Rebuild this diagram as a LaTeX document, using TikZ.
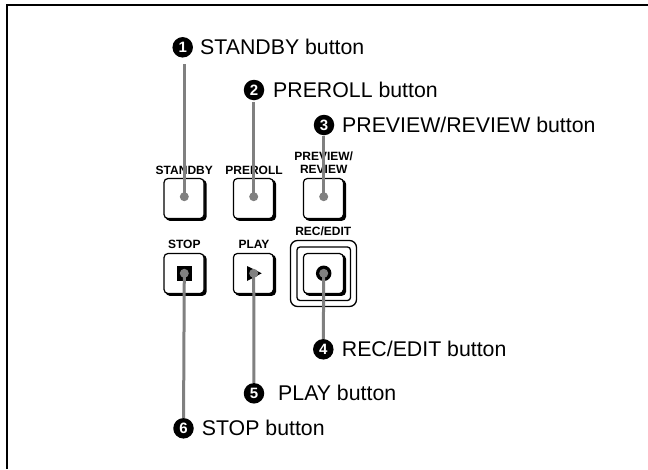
\documentclass[tikz,border=0pt]{standalone}
\usepackage{fontspec}
\setmainfont{Liberation Sans}
\usetikzlibrary{calc}
\definecolor{leadgray}{gray}{0.5}
\tikzset{
    badge/.style={circle,fill=black,text=white,inner sep=0pt,minimum size=20.5pt,font=\fontsize{15}{15}\selectfont\bfseries},
    calllabel/.style={anchor=west,inner sep=0pt,font=\fontsize{21.3}{23}\selectfont},
    keylabel/.style={align=center,inner sep=0pt,font=\fontsize{12}{13}\selectfont\bfseries},
    keybox/.style={draw=black,line width=1.2pt,fill=white,rounded corners=4pt,minimum size=40pt,inner sep=0pt},
    keyshade/.style={fill=black,rounded corners=4pt,minimum size=41pt,inner sep=0pt},
    leaddot/.style={circle,fill=leadgray,inner sep=0pt,minimum size=9pt},
    leadline/.style={draw=leadgray,line width=3pt}
}
\begin{document}
\begin{tikzpicture}[x=1pt,y=-1pt]
    \useasboundingbox (0,0) rectangle (648,469);
    \draw[line width=2pt] (7,469) -- (7,5) -- (648,5);

    % key shadows and key faces
    \foreach \nm/\px/\py in {sb/184.3/198.5,pr/253.7/198.5,pv/323.7/198.5,st/184.3/273.5,pl/253.7/273.5,re/323.7/273.5}{
        \draw (\px+1.8,\py+1.8) node[keyshade]{};
        \draw (\px-0.3,\py) node[keybox](\nm){};
    }

    % rings of the record key
    \draw[line width=1.3pt,rounded corners=7pt] (290.5,240.5) rectangle (356.5,306.5);
    \draw[line width=1.3pt,rounded corners=3pt] (297,247) rectangle (350.5,300.5);

    \draw (184.3,170) node[keylabel]{STANDBY};
    \draw (254,170) node[keylabel]{PREROLL};
    \draw (323.7,162.5) node[keylabel]{PREVIEW/\\REVIEW};
    \draw (184.3,244.5) node[keylabel]{STOP};
    \draw (254,244.5) node[keylabel]{PLAY};
    \draw (323.3,231.5) node[keylabel]{REC/EDIT};

    % key marks
    \fill (176.7,266) rectangle (192,281);
    \fill (247,266) -- (261.7,273.3) -- (247,281) -- cycle;
    \draw (323.7,273.3) node[circle,fill=black,minimum size=15.5pt,inner sep=0pt]{};

    % leader ends
    \draw (184.3,196.7) node[leaddot](dsb){};
    \draw (253.7,196.7) node[leaddot](dpr){};
    \draw (323.7,196.7) node[leaddot](dpv){};
    \draw (184.3,273.3) node[leaddot](dst){};
    \draw (253.7,273.3) node[leaddot](dpl){};
    \draw (323.7,273.3) node[leaddot](dre){};

    % callouts
    \draw (182.7,47.3) node[badge](n1){1};
    \draw (254,90) node[badge](n2){2};
    \draw (324,125) node[badge](n3){3};
    \draw (323.3,349.3) node[badge](n4){4};
    \draw (254,393.3) node[badge](n5){5};
    \draw (183.5,428.3) node[badge](n6){6};

    \draw (200,47.3) node[calllabel]{STANDBY button};
    \draw (273,90) node[calllabel]{PREROLL button};
    \draw (342,125) node[calllabel]{PREVIEW/REVIEW button};
    \draw (341.7,349.3) node[calllabel]{REC/EDIT button};
    \draw (278,393.3) node[calllabel]{PLAY button};
    \draw (201.7,428.3) node[calllabel]{STOP button};

    \coordinate (t1) at (184.3,64);
    \coordinate (t2) at (253.7,102);
    \coordinate (t3) at (323.7,136);
    \draw[leadline] (t1) to (dsb.center);
    \draw[leadline] (t2) to (dpr.center);
    \draw[leadline] (t3) to (dpv.center);
    \draw[leadline] (dre.center) to (n4);
    \draw[leadline] (dpl.center) to (n5);
    \draw[leadline] (dst.center) to (n6);
\end{tikzpicture}
\end{document}
